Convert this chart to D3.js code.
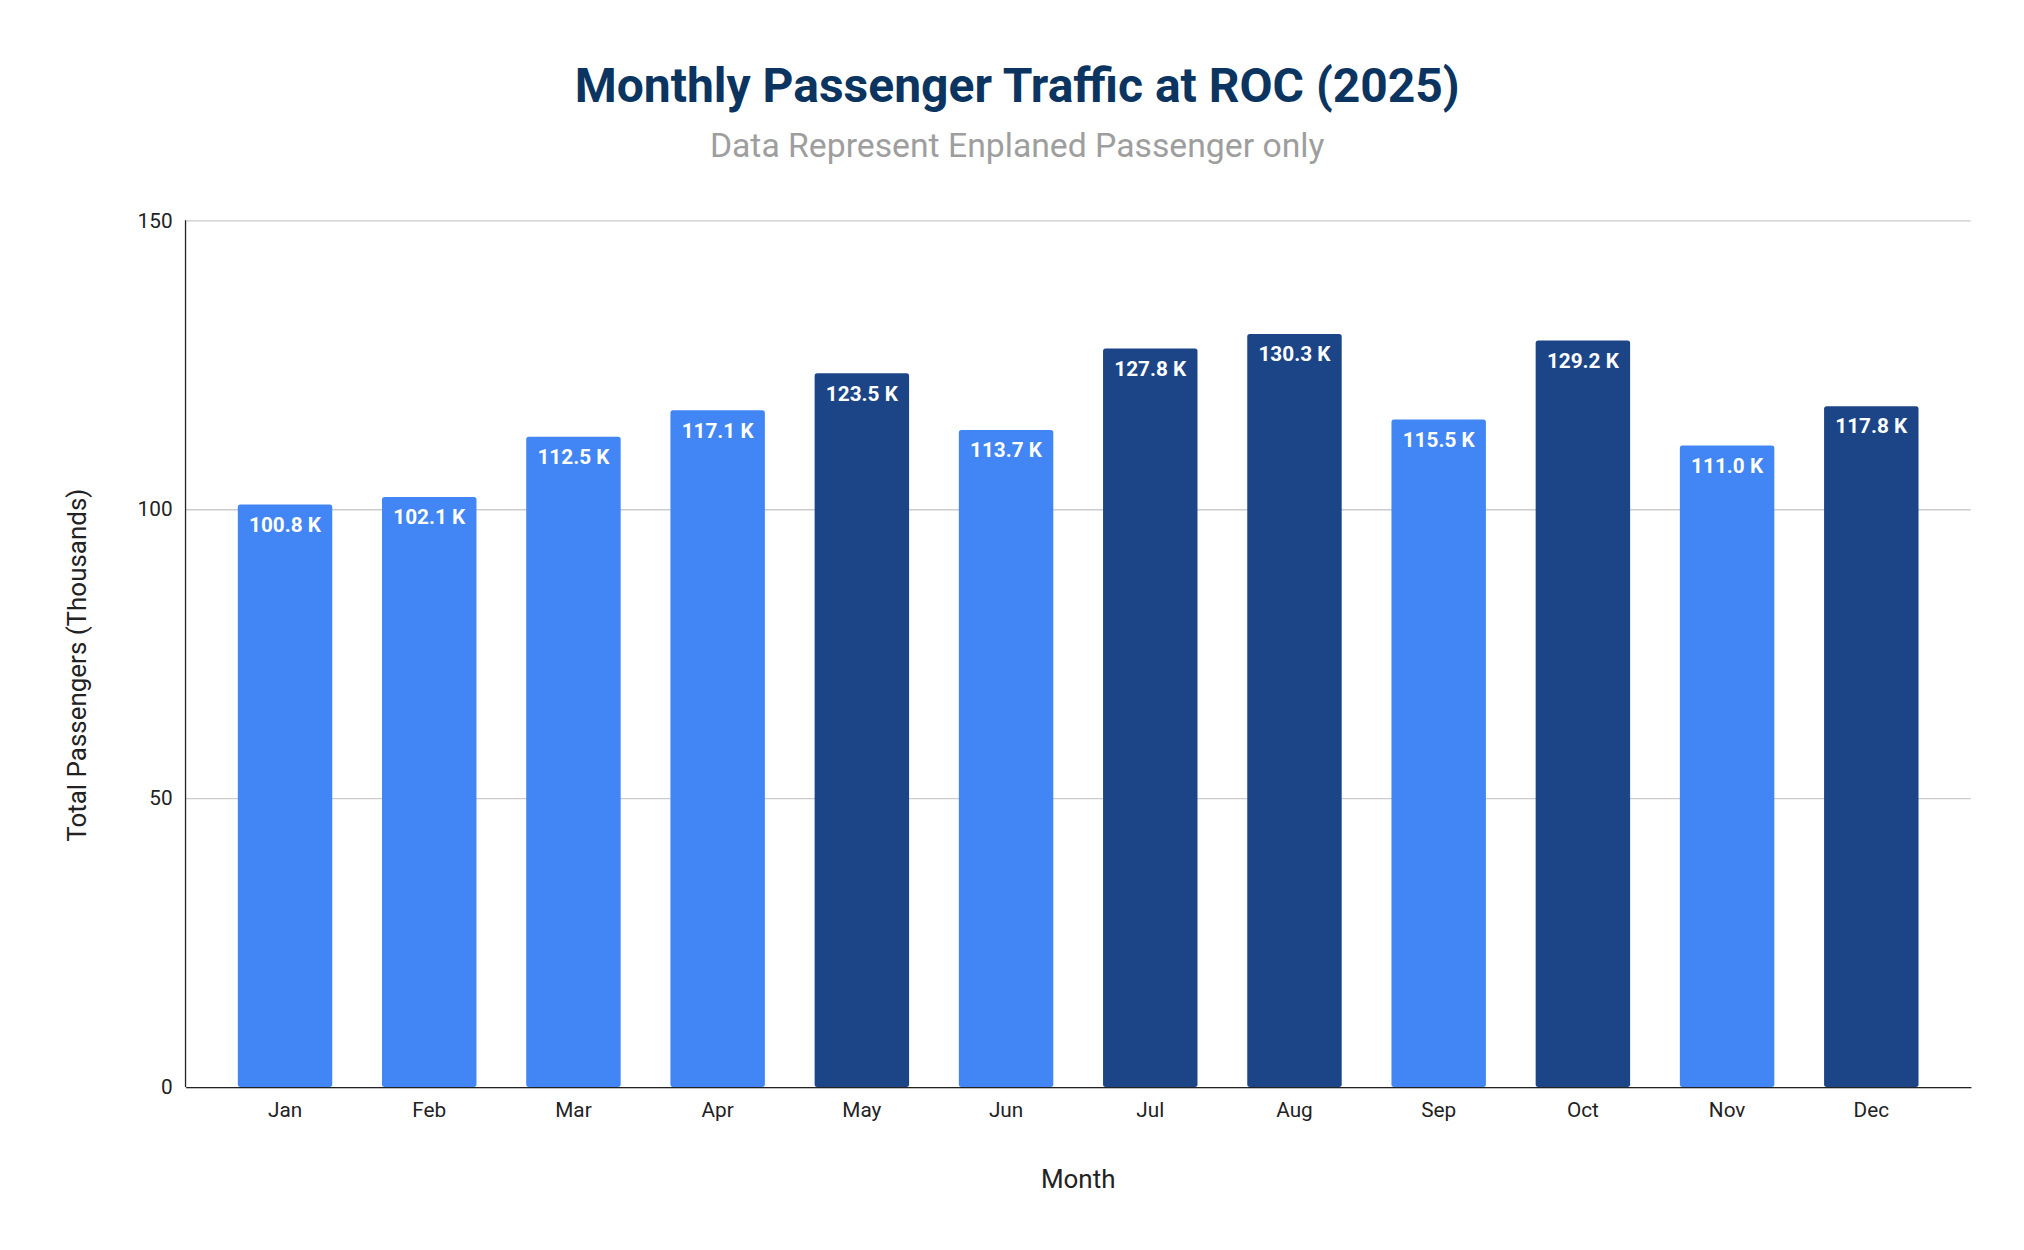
<!DOCTYPE html>
<html><head><meta charset="utf-8">
<script src="https://cdn.jsdelivr.net/npm/d3@7"></script>
<style>body{margin:0;background:#fff}svg{display:block}</style>
</head><body>
<script>
const months = ["Jan","Feb","Mar","Apr","May","Jun","Jul","Aug","Sep","Oct","Nov","Dec"];
const values = [100.8,102.1,112.5,117.1,123.5,113.7,127.8,130.3,115.5,129.2,111.0,117.8];
const highlighted = ["May","Jul","Aug","Oct","Dec"];
const yTicks = [0,50,100,150];

const W=1560,H=962;
const svg=d3.select("body").append("svg").attr("width",2024).attr("height",1250).attr("viewBox",`0 0 ${W} ${H}`);
const m={l:143,r:1519,t:169,b:837};
const x=d3.scaleBand().domain(months).range([m.l,m.r]).paddingInner(0.345).paddingOuter(0.345/2+0.19);
const y=d3.scaleLinear().domain([0,150]).range([m.b,m.t]);
const F="Roboto, Arial, sans-serif";

svg.append("text").attr("x",784).attr("y",78).attr("text-anchor","middle").attr("font-family",F).attr("font-weight","bold").attr("font-size",37).attr("fill","#0b3560").text("Monthly Passenger Traffic at ROC (2025)");
svg.append("text").attr("x",784).attr("y",120).attr("text-anchor","middle").attr("font-family",F).attr("font-size",26).attr("fill","#9e9e9e").text("Data Represent Enplaned Passenger only");

const ya=svg.append("g").attr("transform",`translate(${m.l},0)`).call(d3.axisLeft(y).tickValues(yTicks).tickSize(-(m.r-m.l)).tickPadding(10));
ya.select(".domain").remove();
ya.selectAll(".tick line").attr("stroke","#cccccc");
ya.selectAll("text").attr("font-family",F).attr("font-size",16).attr("fill","#222");
svg.append("line").attr("x1",m.l).attr("x2",m.l).attr("y1",m.t).attr("y2",m.b).attr("stroke","#222");

svg.append("g").selectAll("rect").data(months).join("rect")
 .attr("x",d=>x(d)).attr("width",x.bandwidth())
 .attr("y",(d,i)=>y(values[i])).attr("height",(d,i)=>m.b-y(values[i]))
 .attr("rx",2).attr("fill",d=>highlighted.includes(d)?"#1c4587":"#4285f4");
svg.append("g").selectAll("text").data(months).join("text")
 .attr("x",d=>x(d)+x.bandwidth()/2).attr("y",(d,i)=>y(values[i])+21)
 .attr("text-anchor","middle").attr("font-family",F).attr("font-weight","bold").attr("font-size",16).attr("fill","#fff")
 .text((d,i)=>values[i].toFixed(1)+" K");

const xa=svg.append("g").attr("transform",`translate(0,${m.b})`).call(d3.axisBottom(x).tickSize(0).tickPadding(12));
xa.select(".domain").attr("stroke","#222");
xa.selectAll("text").attr("font-family",F).attr("font-size",16).attr("fill","#222");

svg.append("text").attr("x",831).attr("y",915).attr("text-anchor","middle").attr("font-family",F).attr("font-size",20).attr("fill","#222").text("Month");
svg.append("text").attr("transform","translate(66,512) rotate(-90)").attr("text-anchor","middle").attr("font-family",F).attr("font-size",20).attr("fill","#222").text("Total Passengers (Thousands)");
</script>
</body></html>
